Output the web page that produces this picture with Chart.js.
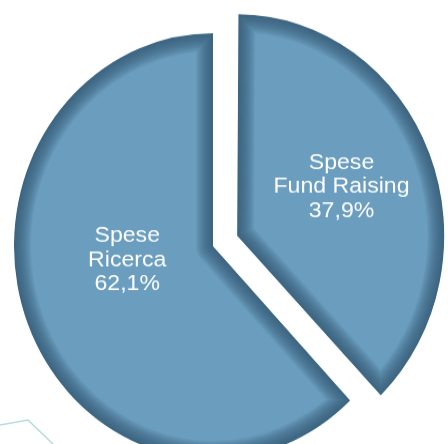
<!DOCTYPE html>
<html>
<head>
<meta charset="utf-8">
<title>Spese</title>
<script src="https://cdn.jsdelivr.net/npm/chart.js@4.4.0/dist/chart.umd.min.js"></script>
<style>
    html, body { margin: 0; padding: 0; background: #ffffff; }
    #frame { position: absolute; left: 0; top: 0; width: 448px; height: 444px; overflow: hidden; }
    #deco { position: absolute; left: 0; top: 0; }
    /* the original pie is slightly taller than wide */
    #stretch { position: absolute; left: 0; top: 0; transform: scaleY(1.07); transform-origin: 0 0; }
    #pieChart { position: absolute; left: -37px; top: -20px; }
</style>
</head>
<body>
<div id="frame">
    <svg id="deco" width="448" height="444"><polyline points="0,425 28,420 53,444" fill="none" stroke="#b6ded8" stroke-width="1.6"/></svg>
    <div id="stretch"><canvas id="pieChart" width="500" height="500"></canvas></div>
</div>
<script>
// Data (clockwise from 12 o'clock)
const categories = [['Spese', 'Fund Raising'], ['Spese', 'Ricerca']];
const shares = [37.9, 62.1];

const fillColor = '#6a9dbe';
const edgeColor = 'rgba(34, 74, 106, 0.075)';

// Darker inner edge on every slice (soft bevel)
const bevelPlugin = {
    id: 'bevel',
    afterDatasetsDraw(chart) {
        const ctx = chart.ctx;
        const widths = [];
        for (let w = 34; w >= 2; w -= 2) widths.push(w);
        ctx.save();
        ctx.globalCompositeOperation = 'source-atop';
        chart.getDatasetMeta(0).data.forEach(arc => {
            const base = arc.options;
            widths.forEach(w => {
                arc.options = Object.assign({}, base, {
                    backgroundColor: 'rgba(0,0,0,0)',
                    borderColor: edgeColor,
                    borderWidth: w,
                    borderAlign: 'center',
                    borderJoinStyle: 'round'
                });
                arc.draw(ctx);
            });
            arc.options = base;
        });
        ctx.restore();
    }
};

// Category + percentage written inside each slice
const labelPlugin = {
    id: 'sliceLabels',
    afterDatasetsDraw(chart) {
        const ctx = chart.ctx;
        chart.getDatasetMeta(0).data.forEach((arc, i) => {
            const mid = (arc.startAngle + arc.endAngle) / 2 + 0.07;
            // arcs are pushed out by offset / 4 when drawn
            const r = (arc.options.offset || 0) / 4 + arc.outerRadius * 0.5;
            const x = arc.x + Math.cos(mid) * r + 9;
            const y = arc.y + Math.sin(mid) * r - 17;
            const lines = categories[i].concat(shares[i].toFixed(1).replace('.', ',') + '%');

            ctx.save();
            ctx.translate(x, y);
            ctx.scale(1.1, 1 / 1.07);
            ctx.fillStyle = '#ffffff';
            ctx.font = '21px "Liberation Sans", Arial, sans-serif';
            ctx.textAlign = 'center';
            ctx.textBaseline = 'middle';
            lines.forEach((line, k) => {
                ctx.fillText(line, 0, (k - 1) * 24);
            });
            ctx.restore();
        });
    }
};

new Chart(document.getElementById('pieChart'), {
    type: 'pie',
    data: {
        labels: categories,
        datasets: [{
            data: shares,
            backgroundColor: fillColor,
            borderWidth: 0,
            offset: [104, 0]
        }]
    },
    options: {
        responsive: false,
        animation: false,
        events: [],
        radius: 199,
        layout: { padding: 0 },
        plugins: {
            legend: { display: false },
            tooltip: { enabled: false }
        }
    },
    plugins: [bevelPlugin, labelPlugin]
});
</script>
</body>
</html>
